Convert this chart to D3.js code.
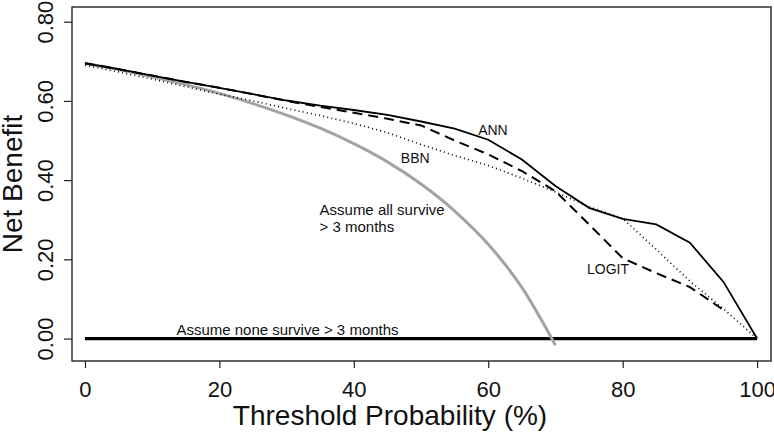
<!DOCTYPE html>
<html>
<head>
<meta charset="utf-8">
<script src="https://cdn.jsdelivr.net/npm/d3@7"></script>
<style>
  html, body { margin: 0; padding: 0; background: #fff; }
  svg { display: block; }
  text { font-family: "Liberation Sans", Arial, Helvetica, sans-serif; fill: #111; }
</style>
</head>
<body>
<svg id="chart" width="774" height="440"></svg>
<script>
// ---- data ----
const thresholds = [0, 5, 10, 15, 20, 25, 30, 35, 40, 45, 50, 55, 60, 65, 70, 75, 80, 85, 90, 95, 100];
const annValues   = [0.695, 0.680, 0.664, 0.648, 0.633, 0.617, 0.601, 0.588, 0.577, 0.565, 0.548, 0.530, 0.502, 0.452, 0.385, 0.330, 0.302, 0.288, 0.242, 0.143, 0.0];
const logitValues = [0.695, 0.680, 0.664, 0.648, 0.633, 0.617, 0.600, 0.585, 0.570, 0.555, 0.538, 0.500, 0.465, 0.423, 0.372, 0.288, 0.203, 0.165, 0.130, 0.072, null];
const bbnValues   = [0.690, 0.673, 0.655, 0.636, 0.617, 0.600, 0.581, 0.563, 0.543, 0.520, 0.490, 0.462, 0.437, 0.405, 0.370, 0.333, 0.303, 0.225, 0.145, 0.075, 0.0];
const allThresholds = [0, 5, 10, 15, 20, 25, 30, 35, 40, 45, 50, 55, 60, 65, 70];
const allValues     = [0.695, 0.679, 0.661, 0.641, 0.619, 0.593, 0.564, 0.531, 0.492, 0.446, 0.390, 0.322, 0.238, 0.129, -0.017];
const noneThresholds = [0, 100];
const noneValues     = [0, 0];
const xTicks = [0, 20, 40, 60, 80, 100];
const yTicks = [0, 0.2, 0.4, 0.6, 0.8];
const xTitle = "Threshold Probability (%)";
const yTitle = "Net Benefit";
const annotations = [
  { text: "ANN", t: 58.5, v: 0.514, size: 14 },
  { text: "BBN", t: 47.0, v: 0.443, size: 14 },
  { text: "LOGIT", t: 74.7, v: 0.163, size: 14 },
  { text: "Assume all survive", t: 34.9, v: 0.312, size: 15 },
  { text: "> 3 months", t: 34.9, v: 0.269, size: 15 },
  { text: "Assume none survive > 3 months", t: 13.6, v: 0.008, size: 15 }
];

// ---- layout ----
const box = { left: 72, top: 7, right: 771, bottom: 361 };
const svg = d3.select("#chart");

const x = d3.scaleLinear().domain([-1.93, 102.07]).range([box.left, box.right]);
const y = d3.scaleLinear().domain([-0.0567, 0.8371]).range([box.bottom, box.top]);

// axes
const xAxis = d3.axisBottom(x).tickValues(xTicks).tickFormat(d3.format("d")).tickSize(7).tickPadding(13);
const yAxis = d3.axisLeft(y).tickValues(yTicks).tickFormat(d3.format(".2f")).tickSize(8);

const gx = svg.append("g").attr("transform", `translate(0,${box.bottom})`).call(xAxis);
gx.select(".domain").remove();
gx.selectAll("line").attr("stroke", "#222").attr("stroke-width", 1.2);
gx.selectAll("text").attr("font-size", 22).attr("fill", "#111")
  .attr("font-family", "Liberation Sans, Arial, sans-serif");

const gy = svg.append("g").attr("transform", `translate(${box.left},0)`).call(yAxis);
gy.select(".domain").remove();
gy.selectAll("line").attr("stroke", "#222").attr("stroke-width", 1.2);
gy.selectAll("text")
  .attr("font-size", 22).attr("fill", "#111")
  .attr("font-family", "Liberation Sans, Arial, sans-serif")
  .attr("text-anchor", "middle")
  .attr("x", 0).attr("y", 0).attr("dy", null)
  .attr("transform", `translate(${53 - box.left},0) rotate(-90)`);

// plot box
svg.append("rect")
  .attr("x", box.left).attr("y", box.top)
  .attr("width", box.right - box.left).attr("height", box.bottom - box.top)
  .attr("fill", "none").attr("stroke", "#222").attr("stroke-width", 1.4);

// titles
svg.append("text").attr("x", 390).attr("y", 425).attr("text-anchor", "middle")
  .attr("font-size", 28).text(xTitle);
svg.append("text").attr("transform", `translate(22,${(box.top + box.bottom) / 2}) rotate(-90)`)
  .attr("text-anchor", "middle").attr("font-size", 28).text(yTitle);

// lines
function series(ts, vs) { return ts.map((t, i) => ({ t, v: vs[i] })); }
const line = d3.line().defined(d => d.v !== null).x(d => x(d.t)).y(d => y(d.v));

svg.append("path").datum(series(noneThresholds, noneValues)).attr("d", line)
  .attr("fill", "none").attr("stroke", "#000").attr("stroke-width", 3.2);

svg.append("path").datum(series(allThresholds, allValues)).attr("d", line.curve(d3.curveMonotoneX))
  .attr("fill", "none").attr("stroke", "#a3a3a3").attr("stroke-width", 3);
line.curve(d3.curveLinear);

svg.append("path").datum(series(thresholds, bbnValues)).attr("d", line)
  .attr("fill", "none").attr("stroke", "#000").attr("stroke-width", 1.6)
  .attr("stroke-dasharray", "1,3.2");

svg.append("path").datum(series(thresholds, logitValues)).attr("d", line)
  .attr("fill", "none").attr("stroke", "#000").attr("stroke-width", 2)
  .attr("stroke-dasharray", "10,6");

svg.append("path").datum(series(thresholds, annValues)).attr("d", line)
  .attr("fill", "none").attr("stroke", "#000").attr("stroke-width", 1.8);

// annotations
svg.append("g").selectAll("text").data(annotations).join("text")
  .attr("x", d => x(d.t)).attr("y", d => y(d.v))
  .attr("font-size", d => d.size).text(d => d.text);
</script>
</body>
</html>
